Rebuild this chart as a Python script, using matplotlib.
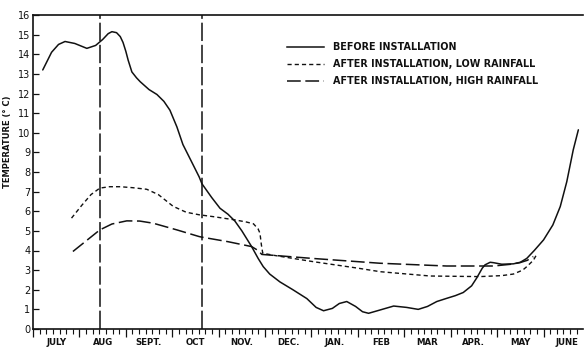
import matplotlib
matplotlib.use("Agg")
import matplotlib.pyplot as plt
from matplotlib.ticker import MultipleLocator

# ---- data (x in months since July 1) ----
months = ["JULY", "AUG", "SEPT.", "OCT", "NOV.", "DEC.", "JAN.", "FEB", "MAR", "APR.", "MAY", "JUNE"]

before_x = [0.21, 0.40, 0.55, 0.69, 0.90, 1.16, 1.35, 1.50, 1.62, 1.70, 1.80, 1.88, 1.94, 2.00, 2.05, 2.13, 2.23, 2.31, 2.50,
            2.67, 2.82, 2.95, 3.10, 3.23, 3.40, 3.58, 3.64, 3.85, 4.03, 4.20, 4.35, 4.50, 4.71, 4.85,
            4.96, 5.10, 5.32, 5.60, 5.90, 6.10, 6.26, 6.45, 6.60, 6.76, 6.95, 7.10, 7.23, 7.45, 7.77,
            8.05, 8.30, 8.50, 8.70, 8.91, 9.10, 9.27, 9.45, 9.56, 9.68, 9.74, 9.85, 9.92, 10.10, 10.35,
            10.50, 10.64, 10.80, 11.00, 11.20, 11.36, 11.50, 11.64, 11.75]
before_y = [13.2, 14.1, 14.5, 14.65, 14.55, 14.3, 14.45, 14.75, 15.05, 15.15, 15.1, 14.9, 14.6, 14.15, 13.7, 13.1, 12.8, 12.6, 12.2,
            11.95, 11.6, 11.15, 10.3, 9.4, 8.6, 7.75, 7.4, 6.7, 6.15, 5.85, 5.5, 5.0, 4.2, 3.6,
            3.18, 2.8, 2.4, 2.0, 1.55, 1.1, 0.93, 1.05, 1.3, 1.4, 1.15, 0.88, 0.8, 0.95, 1.17,
            1.1, 1.0, 1.15, 1.4, 1.56, 1.7, 1.86, 2.2, 2.6, 3.1, 3.27, 3.4, 3.38, 3.3, 3.32,
            3.4, 3.6, 4.0, 4.54, 5.3, 6.24, 7.5, 9.13, 10.15]

low_x = [0.83, 1.05, 1.25, 1.44, 1.65, 1.88, 2.15, 2.45, 2.70, 3.02, 3.30, 3.58, 3.90, 4.35, 4.60,
         4.75, 4.85, 4.89, 4.92, 4.95, 5.20, 6.04, 7.00, 7.48, 8.56, 9.63, 10.10, 10.35, 10.55,
         10.64, 10.78, 10.86]
low_y = [5.65, 6.3, 6.85, 7.18, 7.25, 7.25, 7.2, 7.12, 6.85, 6.25, 5.95, 5.82, 5.72, 5.56, 5.45,
         5.36, 5.1, 4.88, 4.3, 3.86, 3.75, 3.43, 3.1, 2.92, 2.7, 2.67, 2.72, 2.8, 3.0,
         3.18, 3.5, 3.83]

high_x = [0.86, 1.15, 1.44, 1.70, 2.02, 2.30, 2.59, 3.10, 3.58, 3.64, 4.20, 4.71, 4.85, 4.93,
          6.0, 7.48, 8.91, 9.92, 10.30, 10.49, 10.65, 10.78]
high_y = [3.95, 4.5, 5.05, 5.35, 5.51, 5.5, 5.39, 5.05, 4.71, 4.68, 4.45, 4.2, 4.0, 3.8,
          3.6, 3.35, 3.21, 3.21, 3.3, 3.38, 3.5, 3.69]

markers_x = [1.44, 3.64]

legend_labels = ["BEFORE INSTALLATION", "AFTER INSTALLATION, LOW RAINFALL", "AFTER INSTALLATION, HIGH RAINFALL"]

# ---- figure ----
fig = plt.figure(figsize=(5.84, 3.5), dpi=100)
ax = fig.add_axes([33/584, 21/350, 550/584, 314/350])
ax.set_xlim(0, 11.85)
ax.set_ylim(0, 16)

c = "#111111"
ax.plot(before_x, before_y, color=c, lw=1.1, solid_capstyle="round", solid_joinstyle="round")
ax.plot(low_x, low_y, color=c, lw=1.0, dashes=(3, 2.2))
ax.plot(high_x, high_y, color=c, lw=1.1, dashes=(9, 3))
for mx in markers_x:
    ax.axvline(mx, color=c, lw=1.1, dashes=(12, 2.5))

for s in ["left", "bottom", "top"]:
    ax.spines[s].set_linewidth(1.2)
    ax.spines[s].set_color(c)
ax.spines["right"].set_visible(False)

ax.yaxis.set_major_locator(MultipleLocator(1))
ax.tick_params(axis="y", direction="in", length=4, width=0.9, labelsize=7, pad=2, colors=c)
ax.xaxis.set_major_locator(MultipleLocator(1))
ax.xaxis.set_minor_locator(MultipleLocator(1/7))
ax.tick_params(axis="x", which="major", direction="out", length=6, width=0.9, labelbottom=False, colors=c)
ax.tick_params(axis="x", which="minor", direction="out", length=3.5, width=0.8, colors=c)

for i, m in enumerate(months):
    ax.text(i + 0.5, -0.45, m, ha="center", va="top", fontsize=6.2, fontweight="bold",
            color=c, transform=ax.transData, clip_on=False)

fig.text(8/584, 1 - 142/350, "TEMPERATURE (° C)", rotation=90, ha="center", va="center",
         fontsize=6, fontweight="bold", color=c)

# legend drawn manually
styles = [dict(lw=1.1), dict(lw=1.0, dashes=(3, 2.2)), dict(lw=1.1, dashes=(9, 3))]
leg_y = [47, 64, 81]
for lab, st, yy in zip(legend_labels, styles, leg_y):
    y_fig = 1 - yy/350
    fig.add_artist(plt.Line2D([287/584, 324/584], [y_fig, y_fig], color=c, **st))
    fig.text(333/584, y_fig, lab, ha="left", va="center", fontsize=6.9, fontweight="bold", color=c)

fig.savefig("out.png", dpi=100)
